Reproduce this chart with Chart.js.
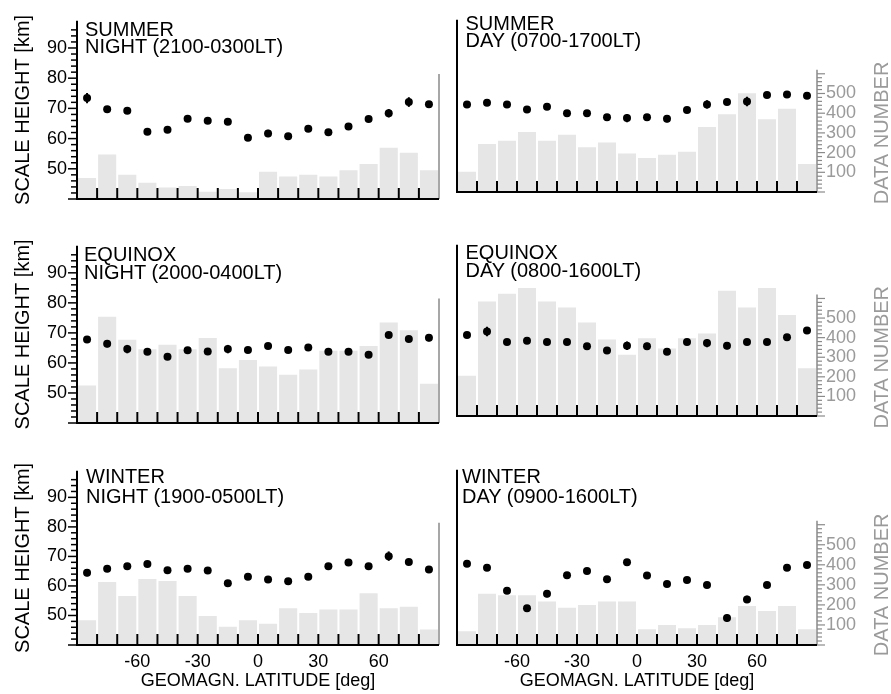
<!DOCTYPE html>
<html>
<head>
<meta charset="utf-8">
<title>Scale height vs geomagnetic latitude</title>
<script src="https://cdn.jsdelivr.net/npm/chart.js@4.4.0/dist/chart.umd.min.js"></script>
<style>
  body { margin: 0; background: #fff; }
  #figure {
    position: relative; width: 891px; height: 694px; background: #fff; overflow: hidden;
    font-family: "Liberation Sans", Arial, sans-serif;
  }
  #figure canvas { position: absolute; }
  .panel-title { position: absolute; font-size: 20px; color: #000; white-space: nowrap; }
</style>
</head>
<body>
<div id="figure"></div>
<script>
// Latitude bins (deg), tick marks and tick labels
const latCenters = [-85, -75, -65, -55, -45, -35, -25, -15, -5, 5, 15, 25, 35, 45, 55, 65, 75, 85];
const latTicks = [-80, -70, -60, -50, -40, -30, -20, -10, 0, 10, 20, 30, 40, 50, 60, 70, 80];
const latLabels = [-60, -30, 0, 30, 60];
const heightLabels = [50, 60, 70, 80, 90];
const dataNumberLabels = [100, 200, 300, 400, 500];

// Summer
const summerNightHeight = [73.4, 69.7, 69.2, 62.3, 62.9, 66.6, 65.9, 65.6, 60.3, 61.7, 60.8, 63.3, 62.1, 64.0, 66.5, 68.4, 72.1, 71.4];
const summerNightError  = [1.7, 0.8, 0.8, 0.8, 1.0, 1.0, 0.8, 0.8, 0.8, 1.2, 0.8, 1.0, 1.0, 0.8, 1.0, 1.4, 1.6, 1.0];
const summerNightCount  = [104, 221, 120, 80, 57, 65, 36, 49, 34, 135, 112, 120, 112, 143, 174, 254, 229, 143];
const summerDayHeight   = [69.5, 70.1, 69.5, 67.8, 68.7, 66.5, 66.5, 65.2, 64.9, 65.2, 64.7, 67.6, 69.5, 70.3, 70.5, 72.7, 72.8, 72.4];
const summerDayError    = [0.8, 1.0, 0.8, 1.0, 0.8, 0.8, 0.8, 0.8, 1.4, 0.8, 1.2, 0.8, 1.4, 1.0, 1.6, 0.8, 0.8, 0.8];
const summerDayCount    = [103, 243, 260, 305, 260, 291, 227, 251, 196, 173, 189, 204, 330, 394, 501, 369, 423, 142];

// Equinox
const equinoxNightHeight = [67.8, 66.4, 64.6, 63.7, 62.1, 64.2, 63.8, 64.6, 64.3, 65.6, 64.3, 65.1, 63.7, 63.7, 62.7, 69.3, 68.0, 68.4];
const equinoxNightError  = [0.8, 1.2, 1.4, 0.8, 0.8, 1.0, 1.0, 1.4, 1.0, 0.8, 0.8, 0.8, 0.8, 0.8, 1.0, 0.8, 1.0, 1.2];
const equinoxNightCount  = [187, 530, 415, 368, 390, 368, 423, 273, 314, 281, 241, 267, 360, 360, 384, 501, 462, 195];
const equinoxDayHeight   = [67.4, 68.6, 65.1, 65.5, 65.1, 65.1, 63.6, 62.2, 63.8, 63.6, 61.8, 65.1, 64.7, 63.8, 65.1, 65.1, 66.7, 69.0];
const equinoxDayError    = [0.8, 1.6, 0.8, 1.0, 0.8, 1.0, 0.8, 0.8, 1.4, 1.2, 0.8, 0.8, 1.4, 1.2, 0.8, 0.8, 0.8, 0.8];
const equinoxDayCount    = [205, 585, 624, 654, 585, 554, 477, 391, 313, 397, 344, 397, 421, 640, 554, 654, 516, 244];

// Winter
const winterNightHeight = [64.5, 65.8, 66.7, 67.4, 65.3, 65.8, 65.2, 60.9, 63.1, 62.2, 61.6, 63.1, 66.7, 67.9, 66.7, 70.1, 68.1, 65.6];
const winterNightError  = [1.2, 0.8, 0.8, 0.8, 0.8, 0.8, 0.8, 0.8, 0.8, 1.0, 0.8, 1.0, 0.8, 1.0, 0.8, 1.6, 1.0, 0.8];
const winterNightCount  = [125, 319, 248, 335, 325, 248, 147, 92, 125, 108, 186, 162, 180, 180, 262, 186, 194, 78];
const winterDayHeight   = [66.9, 65.6, 58.0, 52.2, 57.0, 63.1, 64.5, 61.8, 67.4, 63.0, 60.2, 61.5, 59.9, 48.9, 55.1, 59.9, 65.6, 66.5];
const winterDayError    = [1.0, 0.8, 1.0, 0.8, 1.2, 0.8, 1.0, 1.0, 1.0, 0.8, 1.0, 0.8, 0.8, 1.2, 1.2, 0.8, 0.8, 0.8];
const winterDayCount    = [68, 256, 248, 248, 217, 186, 200, 217, 217, 78, 100, 84, 100, 139, 194, 170, 194, 78];

const FONT = '"Liberation Sans", Arial, sans-serif';
const BAR_GREY = '#e6e6e6';
const AXIS_GREY = '#8a8a8a';
const TEXT_GREY = '#9a9a9a';

Chart.defaults.font.family = FONT;
Chart.defaults.animation = false;
Chart.defaults.events = [];

const panels = [
  { title: ['SUMMER', 'NIGHT (2100-0300LT)'], height: summerNightHeight, error: summerNightError, count: summerNightCount,
    side: 'left', row: 0, area: { t: 17, b: 199 }, text: { x: 85, y: 20.6, lh: 17 } },
  { title: ['SUMMER', 'DAY (0700-1700LT)'], height: summerDayHeight, error: summerDayError, count: summerDayCount,
    side: 'right', row: 0, area: { t: 12, b: 192 }, text: { x: 465.5, y: 14.7, lh: 17.3 } },
  { title: ['EQUINOX', 'NIGHT (2000-0400LT)'], height: equinoxNightHeight, error: equinoxNightError, count: equinoxNightCount,
    side: 'left', row: 1, area: { t: 241, b: 423 }, text: { x: 84, y: 244.9, lh: 18.3 } },
  { title: ['EQUINOX', 'DAY (0800-1600LT)'], height: equinoxDayHeight, error: equinoxDayError, count: equinoxDayCount,
    side: 'right', row: 1, area: { t: 236, b: 416 }, text: { x: 465.5, y: 243.2, lh: 18.3 } },
  { title: ['WINTER', 'NIGHT (1900-0500LT)'], height: winterNightHeight, error: winterNightError, count: winterNightCount,
    side: 'left', row: 2, area: { t: 463, b: 645 }, text: { x: 86, y: 465.7, lh: 20 } },
  { title: ['WINTER', 'DAY (0900-1600LT)'], height: winterDayHeight, error: winterDayError, count: winterDayCount,
    side: 'right', row: 2, area: { t: 465, b: 645 }, text: { x: 462, y: 465.7, lh: 20 } }
];

// Column and row geometry of the canvases
const columns = {
  left:  { x: 0,   w: 445, l: 77,  r: 439, hMax: 99, nMax: 883, yLeftW: 77, yRightW: 0 },
  right: { x: 447, w: 444, l: 457, r: 817, hMax: 98, nMax: 874, yLeftW: 0,  yRightW: 74 }
};
const rows = [
  { y: 0,   h: 225, xH: 0 },
  { y: 225, h: 225, xH: 0 },
  { y: 450, h: 244, xH: 49 }
];

// Axis lines, inner tick marks, error bars and the grey data-number axis
const panelDecor = {
  id: 'panelDecor',
  beforeDatasetsDraw(chart) {
    const { ctx, chartArea: a } = chart;
    const yN = chart.scales.yN;
    ctx.save();
    ctx.strokeStyle = AXIS_GREY;
    ctx.lineWidth = 1.5;
    ctx.beginPath();
    ctx.moveTo(a.right, yN.getPixelForValue(0));
    ctx.lineTo(a.right, yN.getPixelForValue(620));
    ctx.stroke();
    ctx.restore();
  },
  afterDatasetsDraw(chart, args, opts) {
    const { ctx, chartArea: a } = chart;
    const x = chart.scales.x, yH = chart.scales.yH, yN = chart.scales.yN;
    const ds = chart.data.datasets[0];
    ctx.save();
    ctx.strokeStyle = '#000';

    // error bars
    ctx.lineWidth = 2;
    chart.getDatasetMeta(0).data.forEach((pt, i) => {
      const v = ds.data[i].y;
      ctx.beginPath();
      ctx.moveTo(pt.x, yH.getPixelForValue(v - ds.errors[i]));
      ctx.lineTo(pt.x, yH.getPixelForValue(v + ds.errors[i]));
      ctx.stroke();
    });

    // frame: left and bottom axis lines
    ctx.lineWidth = 2;
    ctx.beginPath();
    ctx.moveTo(a.left, a.top);
    ctx.lineTo(a.left, a.bottom);
    ctx.lineTo(a.right, a.bottom);
    ctx.stroke();

    // latitude ticks pointing up into the plot
    latTicks.forEach(v => {
      const px = x.getPixelForValue(v);
      ctx.beginPath();
      ctx.moveTo(px, a.bottom);
      ctx.lineTo(px, a.bottom - 11);
      ctx.stroke();
    });

    // scale height ticks on the left
    if (opts.heightTicks) {
      ctx.lineWidth = 1.5;
      yH.ticks.forEach(t => {
        if (t.value % 2 !== 0) return;
        const py = yH.getPixelForValue(t.value);
        const len = t.value % 10 === 0 ? 9 : 6;
        ctx.beginPath();
        ctx.moveTo(a.left - len, py);
        ctx.lineTo(a.left, py);
        ctx.stroke();
      });
    }

    // data number ticks and title on the right
    if (opts.countTicks) {
      ctx.strokeStyle = AXIS_GREY;
      ctx.lineWidth = 1.2;
      yN.ticks.forEach(t => {
        if (t.value > 600) return;
        const py = yN.getPixelForValue(t.value);
        const len = t.value % 100 === 0 ? 8 : 5;
        ctx.beginPath();
        ctx.moveTo(a.right, py);
        ctx.lineTo(a.right + len, py);
        ctx.stroke();
      });
      ctx.translate(a.right + 65, yN.getPixelForValue(300));
      ctx.rotate(-Math.PI / 2);
      ctx.fillStyle = TEXT_GREY;
      ctx.font = '20px ' + FONT;
      ctx.textAlign = 'center';
      ctx.textBaseline = 'middle';
      ctx.fillText('DATA NUMBER', 0, 0);
    }
    ctx.restore();
  }
};

const figure = document.getElementById('figure');

function buildPanel(p) {
  const col = columns[p.side];
  const row = rows[p.row];
  const isLeft = p.side === 'left';
  const isBottom = p.row === 2;

  const canvas = document.createElement('canvas');
  canvas.width = col.w;
  canvas.height = row.h;
  canvas.style.left = col.x + 'px';
  canvas.style.top = row.y + 'px';
  figure.appendChild(canvas);

  const title = document.createElement('div');
  title.className = 'panel-title';
  title.style.left = p.text.x + 'px';
  title.style.top = p.text.y + 'px';
  title.style.lineHeight = p.text.lh + 'px';
  title.innerHTML = p.title.join('<br>');
  figure.appendChild(title);

  const padding = {
    left: col.l - col.x - col.yLeftW,
    right: col.x + col.w - col.r - col.yRightW,
    top: p.area.t - row.y,
    bottom: row.y + row.h - p.area.b - row.xH
  };

  new Chart(canvas, {
    type: 'bar',
    data: {
      datasets: [
        {
          type: 'line',
          data: latCenters.map((lat, i) => ({ x: lat, y: p.height[i] })),
          errors: p.error,
          yAxisID: 'yH',
          order: 0,
          showLine: false,
          pointRadius: 4,
          pointStyle: 'circle',
          pointBackgroundColor: '#000',
          pointBorderColor: '#000',
          pointBorderWidth: 0
        },
        {
          type: 'bar',
          data: latCenters.map((lat, i) => ({ x: lat, y: p.count[i] })),
          yAxisID: 'yN',
          order: 1,
          backgroundColor: BAR_GREY,
          borderWidth: 0,
          barPercentage: 0.9,
          categoryPercentage: 1
        }
      ]
    },
    options: {
      responsive: false,
      devicePixelRatio: 1,
      layout: { padding: padding },
      plugins: {
        legend: { display: false },
        tooltip: { enabled: false },
        panelDecor: { heightTicks: isLeft, countTicks: !isLeft }
      },
      scales: {
        x: {
          type: 'linear', min: -90, max: 90, offset: false,
          grid: { display: false, drawTicks: false },
          border: { display: false },
          ticks: {
            display: isBottom, stepSize: 10, autoSkip: false, maxRotation: 0, padding: 6,
            color: '#000', font: { size: 18 },
            callback: v => latLabels.includes(v) ? String(v) : ''
          },
          title: {
            display: isBottom, text: 'GEOMAGN. LATITUDE [deg]', color: '#000',
            font: { size: 18 }, padding: { top: 0, bottom: 2 }
          },
          afterFit: s => { s.height = row.xH; }
        },
        yH: {
          type: 'linear', position: 'left', min: 40, max: col.hMax, display: isLeft,
          grid: { display: false, drawTicks: false },
          border: { display: false },
          ticks: {
            stepSize: 2, autoSkip: false, padding: 10, color: '#000', font: { size: 18 },
            callback: v => heightLabels.includes(v) ? String(v) : ''
          },
          title: {
            display: true, text: 'SCALE HEIGHT [km]', color: '#000',
            font: { size: 20 }, padding: { top: 11, bottom: 0 }
          },
          afterFit: s => { s.width = col.yLeftW; }
        },
        yN: {
          type: 'linear', position: 'right', min: 0, max: col.nMax, display: !isLeft,
          grid: { display: false, drawTicks: false },
          border: { display: false },
          ticks: {
            stepSize: 20, autoSkip: false, padding: 9, color: TEXT_GREY, font: { size: 18 },
            callback: v => dataNumberLabels.includes(v) ? String(v) : ''
          },
          afterFit: s => { s.width = col.yRightW; }
        }
      }
    },
    plugins: [panelDecor]
  });
}

panels.forEach(buildPanel);
</script>
</body>
</html>
